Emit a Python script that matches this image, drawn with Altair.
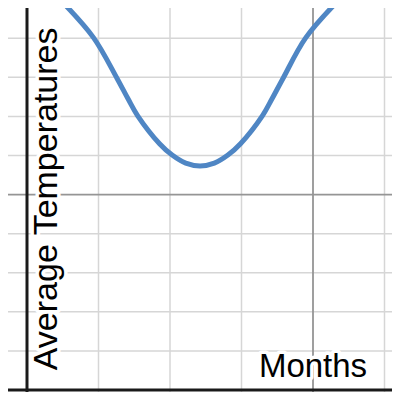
import altair as alt
import pandas as pd

# ---- data ----
months = [0.47, 0.93, 1.26, 1.413, 1.546, 1.854, 2.03, 2.22,
          2.42, 2.62, 2.81, 2.986, 3.294, 3.427, 3.58, 3.90, 4.36]
temps = [9.975, 9.015, 7.97, 7.449, 7.02, 6.30, 6.01, 5.805,
         5.732, 5.805, 6.01, 6.30, 7.02, 7.449, 7.97, 9.015, 9.975]

minor_x = [1, 2, 3, 5]
minor_y = [1, 2, 3, 4, 6, 7, 8, 9]
major_x = [4]
major_y = [5]
axis_x = [0]
axis_y = [0]

x_label = ["Months"]
x_label_pos = [4.0]
x_label_y = [0.33]
y_label = ["Average Temperatures"]
y_label_x = [0.42]
y_label_pos = [4.89]

X_DOMAIN = [-0.2657, 5.1049]
Y_DOMAIN = [-0.051, 9.7727]
W, H = 384, 384

xs = alt.Scale(domain=X_DOMAIN, nice=False, zero=False)
ys = alt.Scale(domain=Y_DOMAIN, nice=False, zero=False)
noax = None

curve_df = pd.DataFrame({"m": months, "t": temps})


def vrules(vals, color, width):
    return alt.Chart(pd.DataFrame({"v": vals})).mark_rule(
        color=color, strokeWidth=width).encode(
        x=alt.X("v:Q", scale=xs, axis=noax))


def hrules(vals, color, width):
    return alt.Chart(pd.DataFrame({"v": vals})).mark_rule(
        color=color, strokeWidth=width).encode(
        y=alt.Y("v:Q", scale=ys, axis=noax))


grid_minor = vrules(minor_x, "#d6d6d6", 1.5) + hrules(minor_y, "#d6d6d6", 1.5)
grid_major = vrules(major_x, "#959595", 1.8) + hrules(major_y, "#959595", 1.8)
axes = vrules(axis_x, "#1a1a1a", 3) + hrules(axis_y, "#1a1a1a", 3)

curve = alt.Chart(curve_df).mark_line(
    color="#4f86c4", strokeWidth=5, interpolate="catmull-rom", clip=True,
    strokeCap="round").encode(
    x=alt.X("m:Q", scale=xs, axis=noax),
    y=alt.Y("t:Q", scale=ys, axis=noax),
)

xl_df = pd.DataFrame({"txt": x_label, "x": x_label_pos, "y": x_label_y})
yl_df = pd.DataFrame({"txt": y_label, "x": y_label_x, "y": y_label_pos})

FONT = "Arial, Liberation Sans"


def label(df, angle, halo, size):
    kw = dict(font=FONT, fontSize=size, align="center", baseline="alphabetic")
    if angle:
        kw["angle"] = angle
    if halo:
        kw.update(fill="white", stroke="white", strokeWidth=7, strokeJoin="round")
    else:
        kw.update(color="black")
    return alt.Chart(df).mark_text(**kw).encode(
        x=alt.X("x:Q", scale=xs, axis=noax),
        y=alt.Y("y:Q", scale=ys, axis=noax),
        text="txt:N",
    )


texts = (label(xl_df, 0, True, 33) + label(yl_df, 270, True, 34)
         + label(xl_df, 0, False, 33) + label(yl_df, 270, False, 34))

chart = alt.layer(grid_minor, grid_major, axes, curve, texts).properties(
    width=W, height=H, padding=0, autosize=alt.AutoSizeParams(type="none"),
    background="white",
).configure_view(stroke=None)

chart.save("out.html", embed_options={"renderer": "svg", "actions": False})
